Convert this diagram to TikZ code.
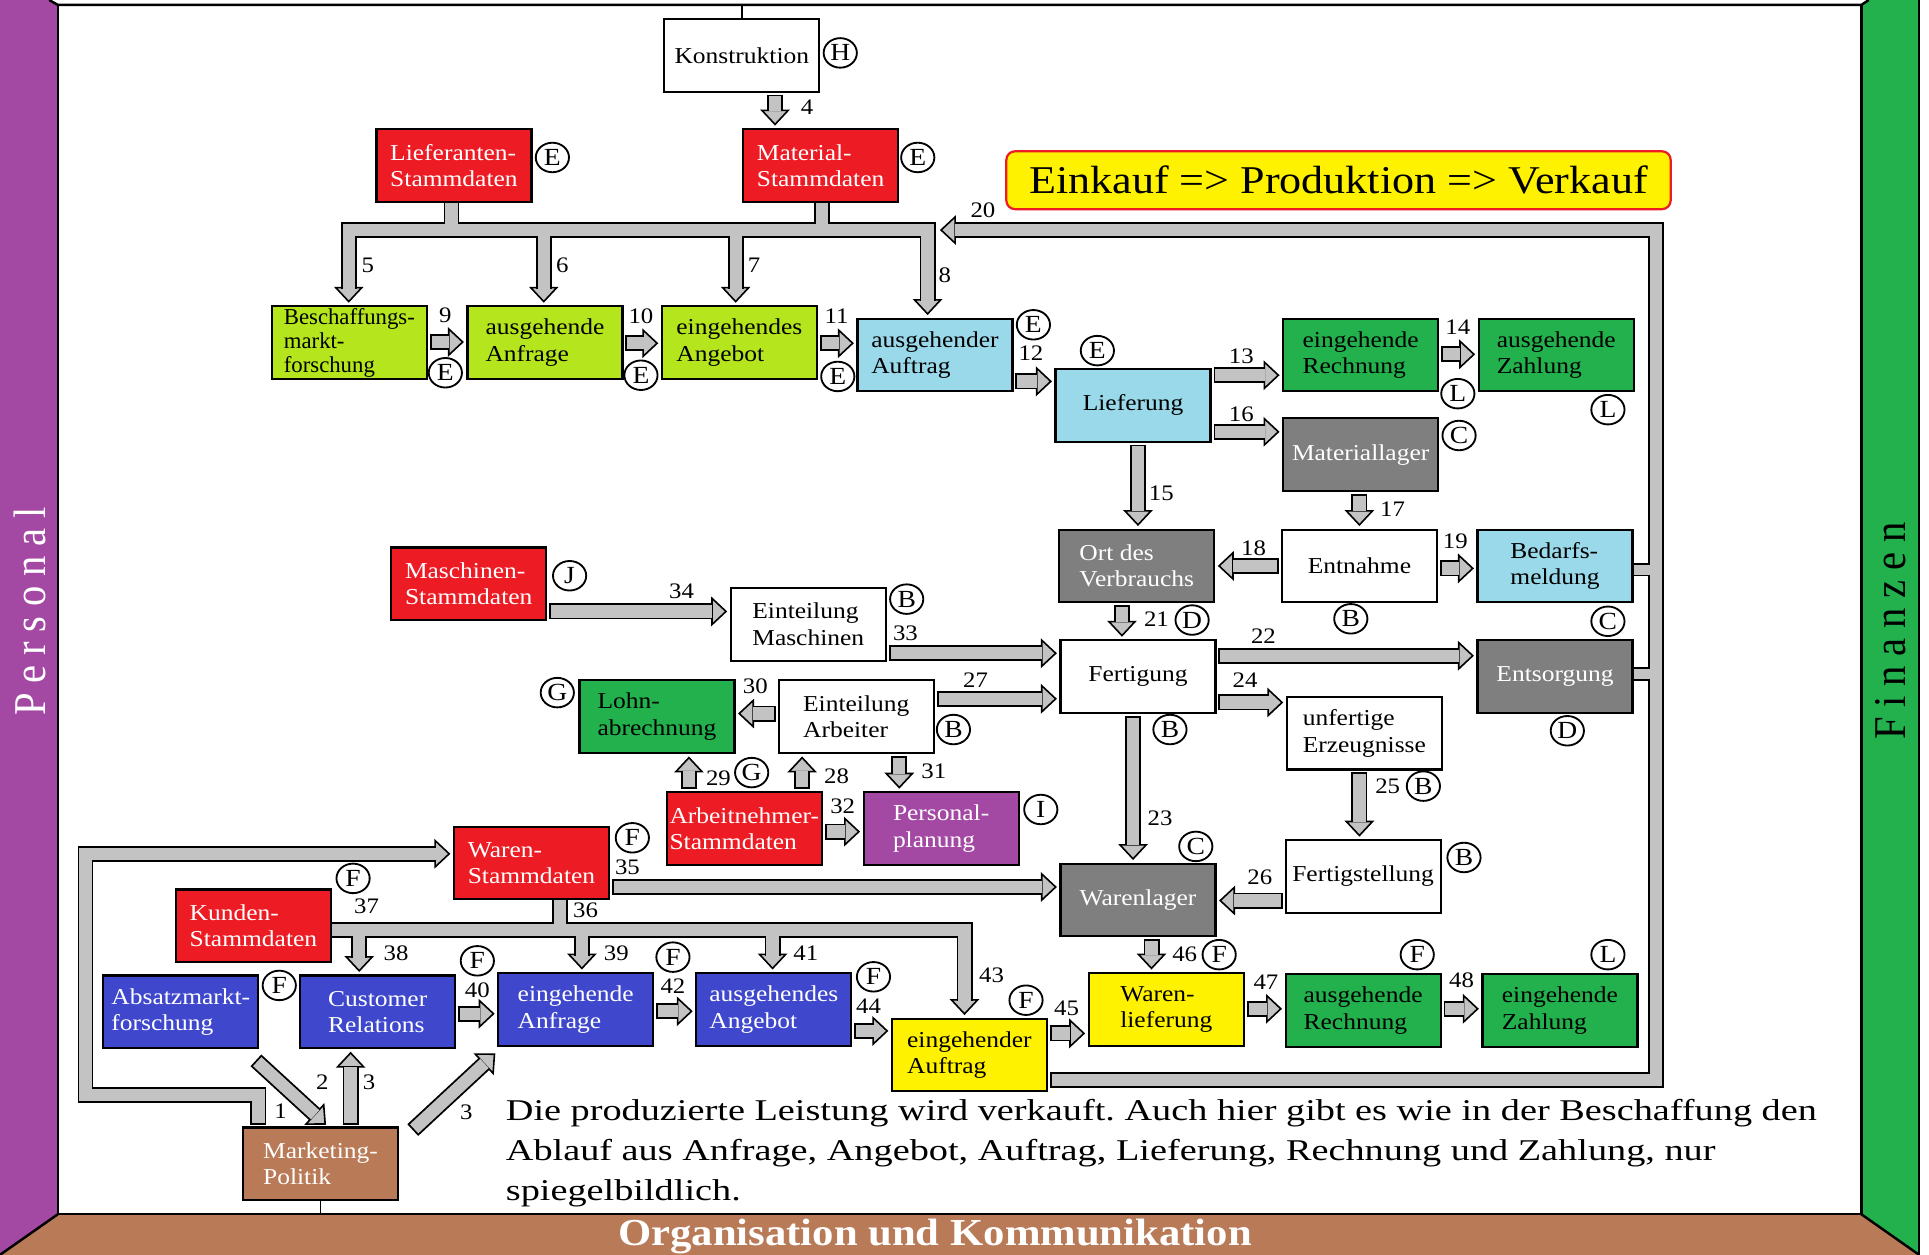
\documentclass[tikz,border=0pt]{standalone}
\usepackage{graphicx}
\usepackage{fontspec}
\setmainfont{Liberation Serif}[FakeStretch=1.12]
\newfontfamily\plainserif{Liberation Serif}
\newfontfamily\capfont{Liberation Serif}[FakeStretch=1.27]
\newfontfamily\wallfont{Liberation Serif}[LetterSpace=24]
\usetikzlibrary{arrows.meta,shapes.geometric}
\frenchspacing

\definecolor{wallpurple}{HTML}{A349A4}
\definecolor{wallgreen}{HTML}{22B14C}
\definecolor{floorbrown}{HTML}{B97A57}
\definecolor{boxred}{HTML}{ED1C24}
\definecolor{boxlime}{HTML}{B5E61D}
\definecolor{boxcyan}{HTML}{99D9EA}
\definecolor{boxgreen}{HTML}{22B14C}
\definecolor{boxgray}{HTML}{7F7F7F}
\definecolor{boxblue}{HTML}{3F48CC}
\definecolor{boxyellow}{HTML}{FFF200}
\definecolor{boxpurple}{HTML}{A349A4}
\definecolor{boxbrown}{HTML}{B97A57}
\definecolor{arrowgray}{HTML}{C3C3C3}

\tikzset{
  box/.style={draw, line width=1.8pt, minimum width=126pt, minimum height=59pt, inner sep=1pt, align=left, font=\fontsize{18.5}{21.5}\selectfont},
  tag/.style={ellipse, draw, line width=1.5pt, minimum width=27pt, minimum height=24pt, inner sep=0pt, font=\fontsize{20}{20}\selectfont},
  num/.style={inner sep=0pt, font=\fontsize{18}{18}\selectfont},
  tiphead/.style={-{Triangle[width=24pt, length=13pt, color=black, fill=arrowgray, line width=1.3pt]}},
  flow/.style={draw=arrowgray, line width=10pt, line join=miter, shorten <=3pt, shorten >=14pt,
    preaction={draw=black, line width=13pt, line join=miter, shorten <=1.5pt, shorten >=14pt},
    preaction={draw=arrowgray, line width=0.2pt, shorten <=3pt, shorten >=2pt, tiphead}},
  tiponly/.style={draw=arrowgray, line width=0.2pt, shorten >=2pt, tiphead},
  band/.style={draw=arrowgray, line width=10pt, line join=miter, preaction={draw=black, line width=13pt, line join=miter}},
  tab/.style={draw=arrowgray, line width=8pt, preaction={draw=black, line width=11pt}},
}

\begin{document}
\begin{tikzpicture}[x=1pt, y=-1pt]
\useasboundingbox (0,0) rectangle (1568,1020);
\fill[white] (0,0) rectangle (1568,1020);

% room
\fill[wallpurple] (0,0) -- (40,0) -- (47,4) -- (47,987) -- (0,1020) -- cycle;
\fill[wallgreen] (1513,4) -- (1519,0) -- (1560,0) -- (1560,1020) -- (1513,987) -- cycle;
\fill[floorbrown] (0,1020) -- (47,987) -- (1513,987) -- (1560,1020) -- cycle;
\draw[line width=2pt] (40,0) -- (47,4) -- (1513,4) -- (1519,0);
\draw[line width=2pt] (47,4) -- (47,987) -- (1513,987) -- (1513,4);
\draw[line width=2pt] (47,987) -- (0,1020);
\draw[line width=2pt] (1513,987) -- (1560,1020);
\draw[line width=2pt] (1560,0) -- (1560,1020);

\node[rotate=90, text=white, font=\wallfont\fontsize{33}{33}\selectfont] (personal) at (24,497) {\scalebox{1}[1.12]{Personal}};
\node[rotate=90, font=\wallfont\fontsize{33}{33}\selectfont] (finanzen) at (1537,513) {\scalebox{1}[1.12]{Finanzen}};
\node[anchor=base, text=white, font=\bfseries\fontsize{31}{31}\selectfont] (orgkom) at (760,1012) {Organisation und Kommunikation};

% boxes
\node[box, fill=white] (konst) at (603,45) {Konstruktion};
\node[box, fill=boxred, text=white] (liefst) at (369,134.5) {Lieferanten-\\Stammdaten};
\node[box, fill=boxred, text=white] (matst) at (667,134.5) {Material-\\Stammdaten};
\node[draw=boxred, fill=boxyellow, line width=1.8pt, rounded corners=7pt, minimum width=540pt, minimum height=47pt, font=\fontsize{32}{32}\selectfont] (title) at (1088,146.5) {Einkauf => Produktion => Verkauf};

\node[box, fill=boxlime, font=\plainserif\fontsize{18.5}{19.5}\selectfont] (besch) at (284,278.5) {Beschaffungs-\\markt-\\forschung};
\node[box, fill=boxlime] (anfr1) at (443,278.5) {ausgehende\\Anfrage};
\node[box, fill=boxlime] (ange1) at (601,278.5) {eingehendes\\Angebot};
\node[box, fill=boxcyan] (auft1) at (760,288.5) {ausgehender\\Auftrag};
\node[box, fill=boxcyan] (lief) at (921,329.5) {Lieferung};
\node[box, fill=boxgreen] (rech1) at (1106,288.5) {eingehende\\Rechnung};
\node[box, fill=boxgreen] (zahl1) at (1265,288.5) {ausgehende\\Zahlung};
\node[box, fill=boxgray, text=white] (mlag) at (1106,369.5) {Materiallager};
\node[box, fill=boxgray, text=white] (ort) at (924,460) {Ort des\\Verbrauchs};
\node[box, fill=white] (entn) at (1105,460) {Entnahme};
\node[box, fill=boxcyan] (bedarf) at (1264,460) {Bedarfs-\\meldung};
\node[box, fill=white] (fert) at (925,550) {Fertigung};
\node[box, fill=boxgray, text=white] (entsorg) at (1264,550) {Entsorgung};
\node[box, fill=white] (unfert) at (1109,596) {unfertige\\Erzeugnisse};
\node[box, fill=white] (fstell) at (1108,712.5) {Fertigstellung};
\node[box, fill=boxgray, text=white] (wlag) at (925,731.5) {Warenlager};

\node[box, fill=boxred, text=white] (maschst) at (381,474.5) {Maschinen-\\Stammdaten};
\node[box, fill=white] (einmasch) at (657,507.5) {Einteilung\\Maschinen};
\node[box, fill=boxgreen] (lohn) at (534,582.5) {Lohn-\\abrechnung};
\node[box, fill=white] (einarb) at (696,582.5) {Einteilung\\Arbeiter};
\node[box, fill=boxred, text=white] (anst) at (605,673.5) {Arbeitnehmer-\\Stammdaten};
\node[box, fill=boxpurple, text=white] (perspl) at (765,673.5) {Personal-\\planung};

\node[box, fill=boxred, text=white] (warst) at (432,701.5) {Waren-\\Stammdaten};
\node[box, fill=boxred, text=white] (kundst) at (206,752.5) {Kunden-\\Stammdaten};
\node[box, fill=boxblue, text=white] (absatz) at (147,822.5) {Absatzmarkt-\\forschung};
\node[box, fill=boxblue, text=white] (crm) at (307,822.5) {Customer\\Relations};
\node[box, fill=boxblue, text=white] (anfr2) at (468,820.5) {eingehende\\Anfrage};
\node[box, fill=boxblue, text=white] (ange2) at (629,820.5) {ausgehendes\\Angebot};
\node[box, fill=boxyellow] (auft2) at (788,857.5) {eingehender\\Auftrag};
\node[box, fill=boxyellow] (wlief) at (948,820.5) {Waren-\\lieferung};
\node[box, fill=boxgreen] (rech2) at (1108,821.5) {ausgehende\\Rechnung};
\node[box, fill=boxgreen] (zahl2) at (1268,821.5) {eingehende\\Zahlung};
\node[box, fill=boxbrown, text=white] (mkt) at (260.5,946) {Marketing-\\Politik};

\draw[line width=1.5pt] (konst.north) -- (konst.north |- 0,4);
\draw[line width=1.5pt] (mkt.south) -- (mkt.south |- 0,987);

% Einkauf
\draw[flow] (konst.south -| 630,0) -- (matst.north -| 630,0);

\draw[tiponly] (283.5,225) -- (besch.north -| 283.5,0);
\draw[tiponly] (442,225) -- (anfr1.north -| 442,0);
\draw[tiponly] (598,225) -- (ange1.north -| 598,0);
\draw[tiponly] (754,235) -- (auft1.north -| 754,0);
\draw[band] (283.5,235) -- (283.5,187) -- (754,187) -- (754,245)
  (liefst.south -| 367,0) -- (367,187) (matst.south -| 668,0) -- (668,187)
  (442,187) -- (442,235) (598,187) -- (598,235);

\coordinate (j20) at (762,187);
\draw[flow] (auft2.east |- 0,878) -- (1346,878) -- (1346,187) -- (j20);
\draw[tab] (bedarf.east |- 0,463) -- (1341,463);
\draw[tab] (entsorg.east |- 0,548) -- (1341,548);

\draw[flow] (besch.east |- 0,278) -- (anfr1.west |- 0,278);
\draw[flow] (anfr1.east |- 0,279) -- (ange1.west |- 0,279);
\draw[flow] (ange1.east |- 0,279) -- (auft1.west |- 0,279);
\draw[flow] (auft1.east |- 0,310) -- (lief.west |- 0,310);
\draw[flow] (lief.east |- 0,305) -- (rech1.west |- 0,305);
\draw[flow] (rech1.east |- 0,288) -- (zahl1.west |- 0,288);
\draw[flow] (lief.east |- 0,351) -- (mlag.west |- 0,351);
\draw[flow] (lief.south -| 925,0) -- (ort.north -| 925,0);
\draw[flow] (mlag.south -| 1105,0) -- (entn.north -| 1105,0);
\draw[flow] (entn.west |- 0,460) -- (ort.east |- 0,460);
\draw[flow] (entn.east |- 0,462) -- (bedarf.west |- 0,462);

% Produktion
\draw[flow] (ort.south -| 912,0) -- (fert.north -| 912,0);
\draw[flow] (fert.east |- 0,533) -- (entsorg.west |- 0,533);
\draw[flow] (fert.east |- 0,571) -- (unfert.west |- 0,571);
\draw[flow] (fert.south -| 921,0) -- (wlag.north -| 921,0);
\draw[flow] (unfert.south -| 1105,0) -- (fstell.north -| 1105,0);
\draw[flow] (fstell.west |- 0,732) -- (wlag.east |- 0,732);
\draw[flow] (maschst.east |- 0,497) -- (einmasch.west |- 0,497);
\draw[flow] (einmasch.east |- 0,531) -- (fert.west |- 0,531);
\draw[flow] (einarb.east |- 0,568) -- (fert.west |- 0,568);
\draw[flow] (einarb.west |- 0,580) -- (lohn.east |- 0,580);
\draw[flow] (anst.north -| 560,0) -- (lohn.south -| 560,0);
\draw[flow] (anst.north -| 652,0) -- (einarb.south -| 652,0);
\draw[flow] (einarb.south -| 731,0) -- (perspl.north -| 731,0);
\draw[flow] (anst.east |- 0,676) -- (perspl.west |- 0,676);

% Verkauf
\draw[flow] (warst.east |- 0,721) -- (wlag.west |- 0,721);

\draw[tiponly] (292,770) -- (crm.north -| 292,0);
\draw[tiponly] (473,768) -- (anfr2.north -| 473,0);
\draw[tiponly] (628,768) -- (ange2.north -| 628,0);
\draw[tiponly] (784,805) -- (auft2.north -| 784,0);
\draw[band] (kundst.east |- 0,756) -- (784,756) -- (784,814)
  (warst.south -| 455,0) -- (455,756)
  (292,756) -- (292,779) (473,756) -- (473,777) (628,756) -- (628,777);

\draw[flow] (mkt.north -| 210,0) -- (210,890) -- (69.5,890) -- (69.5,694) -- (warst.west |- 0,694);
\draw[flow] ([xshift=-4pt,yshift=-8pt]absatz.south east) -- ([xshift=6pt]mkt.north);
\draw[flow] (mkt.north -| 285,0) -- (crm.south -| 285,0);
\draw[flow] ([xshift=10pt,yshift=-4pt]mkt.north east) -- ([yshift=-4pt]anfr2.south west);
\draw[flow] (crm.east |- 0,824) -- (anfr2.west |- 0,824);
\draw[flow] (anfr2.east |- 0,822) -- (ange2.west |- 0,822);
\draw[flow] (ange2.east |- 0,838) -- (auft2.west |- 0,838);
\draw[flow] (auft2.east |- 0,840) -- (wlief.west |- 0,840);
\draw[flow] (wlag.south -| 936,0) -- (wlief.north -| 936,0);
\draw[flow] (wlief.east |- 0,820) -- (rech2.west |- 0,820);
\draw[flow] (rech2.east |- 0,820) -- (zahl2.west |- 0,820);

% numbers
\node[num] (n1) at (228,903) {1};
\node[num] (n2) at (262,880) {2};
\node[num] (n3a) at (300,880) {3};
\node[num] (n3b) at (379,904) {3};
\node[num] (n4) at (656,87) {4};
\node[num] (n5) at (299,216) {5};
\node[num] (n6) at (457,216) {6};
\node[num] (n7) at (613,216) {7};
\node[num] (n8) at (768,224) {8};
\node[num] (n9) at (362,256) {9};
\node[num] (n10) at (521,257) {10};
\node[num] (n11) at (680,257) {11};
\node[num] (n12) at (838,287) {12};
\node[num] (n13) at (1009,290) {13};
\node[num] (n14) at (1185,266) {14};
\node[num] (n15) at (944,401) {15};
\node[num] (n16) at (1009,337) {16};
\node[num] (n17) at (1132,414) {17};
\node[num] (n18) at (1019,446) {18};
\node[num] (n19) at (1183,440) {19};
\node[num] (n20) at (799,171) {20};
\node[num] (n21) at (940,503) {21};
\node[num] (n22) at (1027,517) {22};
\node[num] (n23) at (943,665) {23};
\node[num] (n24) at (1012,553) {24};
\node[num] (n25) at (1128,639) {25};
\node[num] (n26) at (1024,713) {26};
\node[num] (n27) at (793,553) {27};
\node[num] (n28) at (680,631) {28};
\node[num] (n29) at (584,633) {29};
\node[num] (n30) at (614,558) {30};
\node[num] (n31) at (759,627) {31};
\node[num] (n32) at (685,655) {32};
\node[num] (n33) at (736,515) {33};
\node[num] (n34) at (554,481) {34};
\node[num] (n35) at (510,705) {35};
\node[num] (n36) at (476,740) {36};
\node[num] (n37) at (298,737) {37};
\node[num] (n38) at (322,775) {38};
\node[num] (n39) at (501,775) {39};
\node[num] (n40) at (388,805) {40};
\node[num] (n41) at (655,775) {41};
\node[num] (n42) at (547,802) {42};
\node[num] (n43) at (806,793) {43};
\node[num] (n44) at (706,818) {44};
\node[num] (n45) at (867,820) {45};
\node[num] (n46) at (963,776) {46};
\node[num] (n47) at (1029,798) {47};
\node[num] (n48) at (1188,797) {48};

% departments
\node[tag] (tkonst) at (683,43) {H};
\node[tag] (tliefst) at (449,128) {E};
\node[tag] (tmatst) at (746,128) {E};
\node[tag] (tbesch) at (362,303) {E};
\node[tag] (tanfr1) at (521,305) {E};
\node[tag] (tange1) at (681,306) {E};
\node[tag] (tauft1) at (840,264) {E};
\node[tag] (tlief) at (892,285) {E};
\node[tag] (trech1) at (1185,320) {L};
\node[tag] (tzahl1) at (1307,333) {L};
\node[tag] (tmlag) at (1186,354) {C};
\node[tag] (tentn) at (1098,503) {B};
\node[tag] (tbedarf) at (1307,505) {C};
\node[tag] (tort) at (969,504) {D};
\node[tag] (tfert) at (951,593) {B};
\node[tag] (tentsorg) at (1274,594) {D};
\node[tag] (tunfert) at (1157,639) {B};
\node[tag] (tfstell) at (1190,697) {B};
\node[tag] (twlag) at (972,688) {C};
\node[tag] (tmaschst) at (463,468) {J};
\node[tag] (teinmasch) at (737,487) {B};
\node[tag] (tlohn) at (453,563) {G};
\node[tag] (teinarb) at (775,593) {B};
\node[tag] (tanst) at (611,628) {G};
\node[tag] (tperspl) at (846,658) {I};
\node[tag] (twarst) at (514,681) {F};
\node[tag] (tkundst) at (287,714) {F};
\node[tag] (tabsatz) at (227,801) {F};
\node[tag] (tcrm) at (388,781) {F};
\node[tag] (tanfr2) at (547,778) {F};
\node[tag] (tange2) at (710,794) {F};
\node[tag] (tauft2) at (834,813) {F};
\node[tag] (twlief) at (991,776) {F};
\node[tag] (trech2) at (1152,776) {F};
\node[tag] (tzahl2) at (1307,776) {L};

\node[anchor=north west, inner sep=0pt, align=left, font=\capfont\fontsize{24.5}{32.8}\selectfont] (caption) at (411,893) {Die produzierte Leistung wird verkauft. Auch hier gibt es wie in der Beschaffung den\\Ablauf aus Anfrage, Angebot, Auftrag, Lieferung, Rechnung und Zahlung, nur\\spiegelbildlich.};
\end{tikzpicture}
\end{document}
